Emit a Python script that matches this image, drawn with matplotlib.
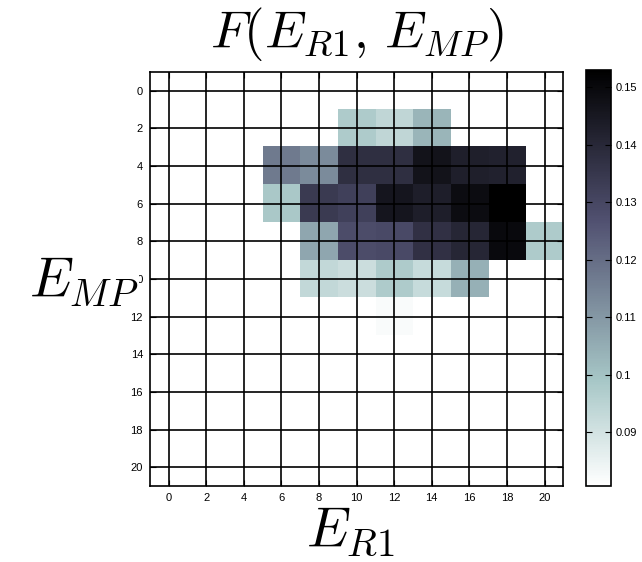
import numpy as np
import matplotlib
matplotlib.use('Agg')
import matplotlib.pyplot as plt

plt.rcParams['mathtext.fontset'] = 'cm'
plt.rcParams['font.family'] = ['Liberation Sans', 'DejaVu Sans']

nan = np.nan
# F(E_R1, E_MP) on an 11 x 11 grid, step 2; rows are E_MP, columns are E_R1
e_r1 = np.arange(0, 21, 2)
e_mp = np.arange(0, 21, 2)
F = np.array([
    [nan] * 11,
    [nan, nan, nan, nan, nan, 0.0974, 0.0937, 0.1030, nan, nan, nan],
    [nan, nan, nan, 0.1170, 0.1131, 0.1375, 0.1376, 0.1465, 0.1426, 0.1420, nan],
    [nan, nan, nan, 0.0983, 0.1339, 0.1319, 0.1459, 0.1430, 0.1488, 0.1530, nan],
    [nan, nan, nan, nan, 0.1066, 0.1283, 0.1290, 0.1371, 0.1403, 0.1497, 0.0974],
    [nan, nan, nan, nan, 0.0933, 0.0914, 0.0974, 0.0922, 0.1043, nan, nan],
    [nan, nan, nan, nan, nan, nan, 0.0820, nan, nan, nan, nan],
    [nan] * 11,
    [nan] * 11,
    [nan] * 11,
    [nan] * 11,
])
cbar_ticks = [0.09, 0.10, 0.11, 0.12, 0.13, 0.14, 0.15]
vmin, vmax = 0.0806, 0.153

fig = plt.figure(figsize=(6.42, 5.62), dpi=100)
ax = fig.add_axes([0.2336, 0.1352, 0.6438, 0.7372])
cax = fig.add_axes([0.9128, 0.1352, 0.039, 0.7402])

step = e_r1[1] - e_r1[0]
extent = (e_r1[0] - step / 2, e_r1[-1] + step / 2,
          e_mp[-1] + step / 2, e_mp[0] - step / 2)
im = ax.imshow(F, cmap='bone_r', vmin=vmin, vmax=vmax, extent=extent,
               interpolation='nearest', aspect='auto')

ax.set_xticks(e_r1)
ax.set_yticks(e_mp)
ax.set_xlim(extent[0], extent[1])
ax.set_ylim(extent[2], extent[3])
ax.grid(True, color='black', linewidth=1.2, linestyle='-')
ax.tick_params(direction='in', top=True, right=True, length=4,
               labelsize=8, pad=5)
for s in ax.spines.values():
    s.set_linewidth(1.2)

ax.set_title(r'$F(E_{R1},\,E_{MP})$', fontsize=38, y=1.055, va='baseline', pad=0)

ax.set_xlabel(r'$E_{R1}$', fontsize=40)
ax.xaxis.label.set(ha='center', va='baseline')
ax.xaxis.set_label_coords(0.484, -0.145)

ax.set_ylabel(r'$E_{MP}$', fontsize=40, rotation=0,
              bbox=dict(facecolor='white', edgecolor='none', pad=0))
ax.yaxis.label.set(ha='right', va='baseline')
ax.yaxis.set_label_coords(-0.027, 0.455)

cb = fig.colorbar(im, cax=cax, ticks=cbar_ticks, format='%g')
cb.ax.tick_params(direction='in', left=True, right=True, length=4,
                  labelsize=8, width=0.8)
cb.outline.set_linewidth(1.2)

fig.savefig('out.png', dpi=100)
